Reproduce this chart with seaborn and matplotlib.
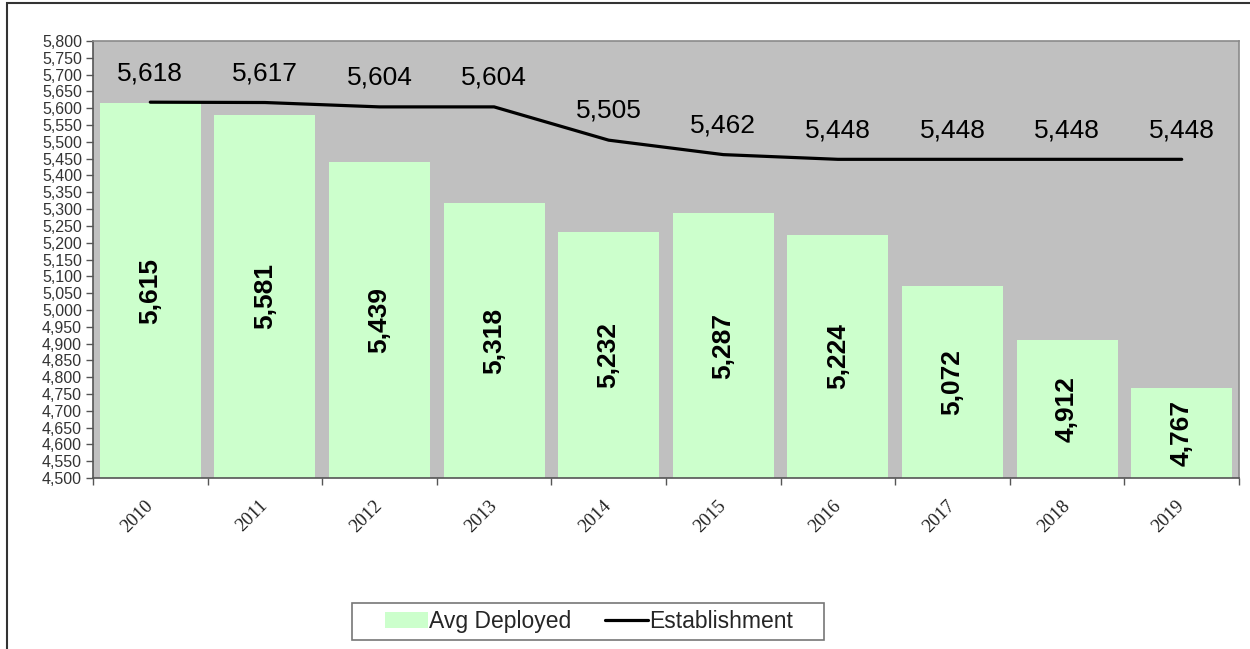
import matplotlib
matplotlib.use("Agg")
import matplotlib.pyplot as plt
import seaborn as sns
import numpy as np
import pandas as pd
from matplotlib.patches import Rectangle, Patch
from matplotlib.lines import Line2D
from matplotlib.ticker import FuncFormatter, MultipleLocator, FixedLocator

years = ["2010", "2011", "2012", "2013", "2014", "2015", "2016", "2017", "2018", "2019"]
avg_deployed = [5615, 5581, 5439, 5318, 5232, 5287, 5224, 5072, 4912, 4767]
establishment = [5618, 5617, 5604, 5604, 5505, 5462, 5448, 5448, 5448, 5448]

sns.set_style("white")
plt.rcParams["font.family"] = ["Liberation Sans", "DejaVu Sans"]

fig = plt.figure(figsize=(12.5, 6.49), dpi=100)
ax = fig.add_axes([93/1250, 1-478/649, (1239-93)/1250, (478-41)/649])
ax.set_facecolor("#C0C0C0")

df = pd.DataFrame({"Year": years, "Avg": avg_deployed})
sns.barplot(data=df, x="Year", y="Avg", color="#CCFFCC", saturation=1,
            width=0.88, ax=ax, edgecolor="none", linewidth=0)

pos = np.arange(len(years))
sns.lineplot(x=pos, y=establishment, color="black", linewidth=2.3, ax=ax)

ax.set_ylim(4500, 5800)
ax.set_xlim(-0.5, len(years) - 0.5)
ax.yaxis.set_major_locator(MultipleLocator(50))
ax.yaxis.set_major_formatter(FuncFormatter(lambda v, p: f"{int(v):,}"))
ax.tick_params(axis="y", labelsize=11.5, labelcolor="#333333", length=5,
               width=1, color="#555555", direction="out", left=True, pad=3)

# x ticks at category boundaries, labels at centers
ax.xaxis.set_major_locator(FixedLocator(np.arange(-0.5, len(years), 1.0)))
ax.xaxis.set_major_formatter(FuncFormatter(lambda v, p: ""))
ax.set_xticks(pos, minor=True)
ax.set_xticklabels(years, minor=True, rotation=45, ha="right", va="center",
                   rotation_mode="anchor",
                   fontfamily="Liberation Serif", fontsize=13.5, color="#222222")
ax.tick_params(axis="x", which="major", length=5, width=1, color="#555555",
               direction="out", bottom=True)
ax.tick_params(axis="x", which="minor", length=0, pad=18)
ax.set_xlabel("")
ax.set_ylabel("")

for side in ["left", "bottom"]:
    ax.spines[side].set_color("#555555")
    ax.spines[side].set_linewidth(1.2)
for side in ["top", "right"]:
    ax.spines[side].set_color("#8a8a8a")
    ax.spines[side].set_linewidth(1.2)

# bar labels
for i, v in enumerate(avg_deployed):
    ax.text(i, (4500 + v) / 2, f"{v:,}", rotation=90, ha="center", va="center",
            fontsize=19, fontweight="bold", color="black")

# line labels
for i, v in enumerate(establishment):
    ax.annotate(f"{v:,}", (i, v), xytext=(0, 21), textcoords="offset points",
                ha="center", va="center", fontsize=19, color="black")

handles = [Patch(facecolor="#CCFFCC", edgecolor="none"),
           Line2D([0], [0], color="black", linewidth=2.3)]
leg = fig.legend(handles, ["Avg Deployed", "Establishment"], loc="center",
                 bbox_to_anchor=(589/1250, 1-621.5/649), ncol=2, fontsize=16.5,
                 frameon=False, handlelength=1.85, handletextpad=0.05,
                 columnspacing=1.5, borderpad=0.3)

# legend box
fig.patches.append(Rectangle((352/1250, 1-640/649), (824-352)/1250, 37/649,
                             transform=fig.transFigure, fill=False,
                             edgecolor="#777777", linewidth=1.2, zorder=5))

# outer frame of chart area
fig.patches.append(Rectangle((7/1250, -0.1), 1.2, (1-3/649) + 0.1,
                             transform=fig.transFigure, fill=False,
                             edgecolor="#333333", linewidth=1.5, zorder=10))

fig.savefig("out.png", dpi=100, facecolor="white")
